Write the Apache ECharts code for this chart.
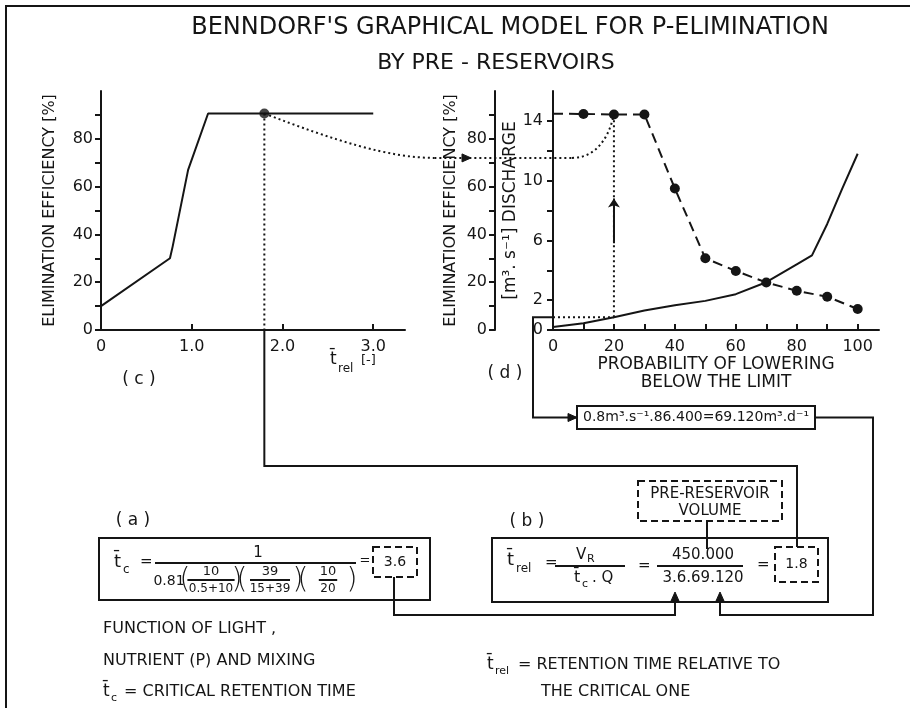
<!DOCTYPE html>
<html>
<head>
<meta charset="utf-8">
<script src="https://cdn.jsdelivr.net/npm/echarts@6/dist/echarts.min.js"></script>
<style>
  html, body { margin: 0; padding: 0; background: #ffffff; }
  #chart { width: 910px; height: 708px; }
</style>
</head>
<body>
<div id="chart"></div>
<script>
// ---- (c) elimination efficiency against relative retention time ----
const relTime    = [0, 0.76, 0.79, 0.96, 1.18, 3.0];
const efficiency = [10, 30, 35, 67, 90.6, 90.6];
const chosenRelTime = 1.8;      // result of formula (b)
const chosenEff = 90.6;         // efficiency read at that retention time
const transferEff = 72;         // level of the dotted transfer line

// ---- (d) probability of lowering below the limit ----
const probability = [0, 10, 20, 30, 40, 50, 60, 70, 80, 90, 100];
const effByProb   = [90.5, 90.4, 90.2, 90.2, 59.2, 30.0, 24.7, 19.9, 16.4, 13.9, 8.8];
const dischargeProb = [0, 10, 20, 30, 40, 50, 60, 70, 80, 85, 90, 95, 100];
const discharge     = [0.2, 0.45, 0.85, 1.3, 1.65, 1.95, 2.4, 3.2, 4.4, 5.0, 7.1, 9.5, 11.8];
const chosenProb = 20;
const chosenQ = 0.85;
const arrowQ = [5.8, 8.8];

// ---- ticks and labels ----
const effTicks   = [0, 10, 20, 30, 40, 50, 60, 70, 80, 90];
const effLabels  = [0, 20, 40, 60, 80];
const relTicks   = [0, 1, 2, 3];
const relLabels  = ['0', '1.0', '2.0', '3.0'];
const qTicks     = [0, 2, 4, 6, 8, 10, 12, 14];
const qLabels    = [0, 2, 6, 10, 14];
const probTicks  = [0, 10, 20, 30, 40, 50, 60, 70, 80, 90, 100];
const probLabels = [0, 20, 40, 60, 80, 100];

const EFF_MAX = 100, Q_MAX = 16, REL_MAX = 3.35, PROB_MAX = 107;

const INK = '#151515';
const FONT = '"DejaVu Sans", "Liberation Sans", sans-serif';

const chart = echarts.init(document.getElementById('chart'), null, { renderer: 'canvas' });

function zip(xs, ys) { return xs.map((x, i) => [x, ys[i]]); }

function valueAxis(extra) {
  return Object.assign({
    type: 'value',
    axisLine: { show: true, onZero: false, lineStyle: { color: INK, width: 2 } },
    splitLine: { show: false },
    axisLabel: { color: INK, fontFamily: FONT, fontSize: 16 },
    nameTextStyle: { color: INK, fontFamily: FONT, fontSize: 16 }
  }, extra);
}

const effAxisCommon = {
  min: 0, max: EFF_MAX, interval: 10,
  axisTick: { show: true, inside: false, length: 6, customValues: effTicks, lineStyle: { color: INK, width: 2 } },
  axisLabel: { color: INK, fontFamily: FONT, fontSize: 16, margin: 8, customValues: effLabels },
  name: 'ELIMINATION EFFICIENCY [%]', nameLocation: 'middle', nameRotate: 90,
  nameTextStyle: { color: INK, fontFamily: FONT, fontSize: 16 }
};

const option = {
  animation: false,
  backgroundColor: '#ffffff',
  grid: [
    { left: 101, top: 91, width: 304, height: 239 },
    { left: 553, top: 91, width: 326, height: 239 }
  ],
  xAxis: [
    valueAxis({
      gridIndex: 0, min: 0, max: REL_MAX, interval: 1,
      axisTick: { show: true, inside: true, length: 6, customValues: relTicks, lineStyle: { color: INK, width: 2 } },
      axisLabel: { color: INK, fontFamily: FONT, fontSize: 16, margin: 9, customValues: relTicks,
        formatter: v => relLabels[relTicks.indexOf(Math.round(v))] }
    }),
    valueAxis({
      gridIndex: 1, min: 0, max: PROB_MAX, interval: 10,
      axisTick: { show: true, inside: true, length: 6, customValues: probTicks, lineStyle: { color: INK, width: 2 } },
      axisLabel: { color: INK, fontFamily: FONT, fontSize: 16, margin: 9, customValues: probLabels },
      name: 'PROBABILITY OF LOWERING\nBELOW THE LIMIT', nameLocation: 'middle', nameGap: 26,
      nameTextStyle: { color: INK, fontFamily: FONT, fontSize: 17, lineHeight: 18, verticalAlign: 'top' }
    })
  ],
  yAxis: [
    valueAxis(Object.assign({ gridIndex: 0, nameGap: 43 }, effAxisCommon)),
    valueAxis({
      gridIndex: 1, min: 0, max: Q_MAX, interval: 2, position: 'left',
      axisTick: { show: true, inside: false, length: 6, customValues: qTicks, lineStyle: { color: INK, width: 2 } },
      axisLabel: { color: INK, fontFamily: FONT, fontSize: 16, margin: 10, customValues: qLabels },
      name: '[m\u00B3. s\u207B\u00B9] DISCHARGE', nameLocation: 'middle', nameRotate: 90, nameGap: 25,
      nameTextStyle: { color: INK, fontFamily: FONT, fontSize: 17 }
    }),
    valueAxis(Object.assign({ gridIndex: 1, position: 'left', offset: 58, nameGap: 36 }, effAxisCommon))
  ],
  series: [
    { // (c) efficiency curve
      type: 'line', xAxisIndex: 0, yAxisIndex: 0, data: zip(relTime, efficiency),
      symbol: 'none', lineStyle: { color: INK, width: 2 }
    },
    { // reading at t_rel = 1.8
      type: 'scatter', xAxisIndex: 0, yAxisIndex: 0, data: [[chosenRelTime, chosenEff]],
      symbol: 'circle', symbolSize: 10, itemStyle: { color: INK }
    },
    { // dotted drop line from the reading to the axis
      type: 'line', xAxisIndex: 0, yAxisIndex: 0, data: [[chosenRelTime, chosenEff], [chosenRelTime, 0]],
      symbol: 'none', lineStyle: { color: INK, width: 2, type: [2, 3] }
    },
    { // (d) efficiency against probability
      type: 'line', xAxisIndex: 1, yAxisIndex: 2,
      data: zip(probability, effByProb).map((p, i) => i === 0 ? { value: p, symbol: 'none' } : { value: p }),
      symbol: 'circle', symbolSize: 10, itemStyle: { color: INK },
      lineStyle: { color: INK, width: 2, type: [10, 6] }
    },
    { // (d) discharge duration curve
      type: 'line', xAxisIndex: 1, yAxisIndex: 1, data: zip(dischargeProb, discharge),
      symbol: 'none', lineStyle: { color: INK, width: 2 }
    },
    { // dotted level of the chosen discharge
      type: 'line', xAxisIndex: 1, yAxisIndex: 1, data: [[0, chosenQ], [chosenProb, chosenQ]],
      symbol: 'none', lineStyle: { color: INK, width: 2, type: [2, 3] }
    },
    { // dotted vertical at the chosen probability
      type: 'line', xAxisIndex: 1, yAxisIndex: 2,
      data: [[chosenProb, chosenQ * EFF_MAX / Q_MAX], [chosenProb, effByProb[probability.indexOf(chosenProb)]]],
      symbol: 'none', lineStyle: { color: INK, width: 2, type: [2, 3] }
    },
    { // upward arrow on the vertical
      type: 'lines', coordinateSystem: 'cartesian2d', xAxisIndex: 1, yAxisIndex: 1,
      data: [{ coords: [[chosenProb, arrowQ[0]], [chosenProb, arrowQ[1]]] }],
      symbol: ['none', 'arrow'], symbolSize: 9,
      lineStyle: { color: INK, width: 2, opacity: 1 }
    }
  ]
};

chart.setOption(option);

// ---- diagram furniture: boxes, formulas, connectors ----
const pc = p => chart.convertToPixel({ xAxisIndex: 0, yAxisIndex: 0 }, p);
const pq = p => chart.convertToPixel({ xAxisIndex: 1, yAxisIndex: 1 }, p);
const pe = p => chart.convertToPixel({ xAxisIndex: 1, yAxisIndex: 2 }, p);

const line = { stroke: INK, lineWidth: 2, fill: null };
const dotted = { stroke: INK, lineWidth: 2, fill: null, lineDash: [2, 3] };
const dashed = { stroke: INK, lineWidth: 2, fill: null, lineDash: [7, 4] };

function T(x, y, text, size, align, extra) {
  return {
    type: 'text', x: x, y: y, z: 10,
    style: Object.assign({
      text: text, fill: INK, font: size + 'px ' + FONT,
      align: align || 'left', verticalAlign: 'middle',
      textAlign: align || 'left', textVerticalAlign: 'middle'
    }, extra || {})
  };
}
function poly(points, style) { return { type: 'polyline', z: 5, shape: { points: points }, style: style || line }; }
function rect(x, y, w, h, style) { return { type: 'rect', z: 5, shape: { x: x, y: y, width: w, height: h }, style: style || line }; }
function arrowHead(x, y, dir) {
  const L = 9, W = 4;
  let pts;
  if (dir === 'right') pts = [[x - L, y - W], [x, y], [x - L, y + W]];
  else if (dir === 'up') pts = [[x - W, y + L], [x, y], [x + W, y + L]];
  else pts = [[x - W, y - L], [x, y], [x + W, y - L]];
  return { type: 'polygon', z: 6, shape: { points: pts }, style: { fill: INK, stroke: INK, lineWidth: 1 } };
}
function hline(x1, x2, y) { return poly([[x1, y], [x2, y]]); }

const cDot = pc([chosenRelTime, chosenEff]);
const cFoot = pc([chosenRelTime, 0]);
const level = pc([0, transferEff])[1];
const dDot = pe([chosenProb, effByProb[probability.indexOf(chosenProb)]]);
const dEffAxisX = pe([0, 0])[0] - 58;
const qPt = pq([0, chosenQ]);

const g = [];

// outer frame
g.push(poly([[6, 708], [6, 6], [910, 6]]));

// title
g.push(T(510, 28, "BENNDORF'S GRAPHICAL MODEL FOR P-ELIMINATION", 24, 'center'));
g.push(T(496, 63, 'BY PRE - RESERVOIRS', 22, 'center'));

// panel marks
g.push(T(139, 380, '( c )', 17, 'center'));
g.push(T(505, 374, '( d )', 17, 'center'));
g.push(T(330, 360, 't\u0304', 17, 'left'));
g.push(T(338, 369, 'rel', 12, 'left'));
g.push(T(361, 361, '[-]', 13, 'left'));

// dotted transfer from (c) to (d)
g.push({
  type: 'bezierCurve', z: 5,
  shape: { x1: cDot[0], y1: cDot[1], x2: cDot[0] + 170, y2: level,
           cpx1: cDot[0] + 70, cpy1: cDot[1] + 27, cpx2: cDot[0] + 125, cpy2: level },
  style: dotted
});
g.push(poly([[cDot[0] + 170, level], [dDot[0] - 42, level]], dotted));
g.push({
  type: 'bezierCurve', z: 5,
  shape: { x1: dDot[0] - 42, y1: level, x2: dDot[0], y2: dDot[1],
           cpx1: dDot[0] - 15, cpy1: level, cpx2: dDot[0] - 4, cpy2: level - 25 },
  style: dotted
});
g.push(arrowHead(dEffAxisX - 24, level, 'right'));

// connector from t_rel = 1.8 down to the result box of (b)
const boxB18 = { x: 775, y: 547, w: 43, h: 35 };
g.push(poly([[cFoot[0], cFoot[1]], [cFoot[0], 466], [797, 466], [797, boxB18.y]]));

// discharge read-off connector to the conversion box
const box08 = { x: 577, y: 406, w: 238, h: 23 };
const boxMid = box08.y + box08.h / 2;
g.push(poly([[qPt[0], qPt[1]], [qPt[0] - 20, qPt[1]], [qPt[0] - 20, boxMid], [box08.x - 1, boxMid]]));
g.push(arrowHead(box08.x, boxMid, 'right'));
g.push(rect(box08.x, box08.y, box08.w, box08.h));
g.push(T(box08.x + box08.w / 2, boxMid, '0.8m\u00B3.s\u207B\u00B9.86.400=69.120m\u00B3.d\u207B\u00B9', 14, 'center'));
g.push(poly([[box08.x + box08.w, boxMid], [873, boxMid], [873, 615], [720, 615], [720, 596]]));
g.push(arrowHead(720, 592, 'up'));

// (a) formula for the critical retention time
g.push(T(133, 521, '( a )', 17, 'center'));
g.push(rect(99, 538, 331, 62));
g.push(T(114, 562, 't\u0304', 18, 'left'));
g.push(T(123, 570, 'c', 12, 'left'));
g.push(T(140, 562, '=', 15, 'left'));
g.push(T(258, 553, '1', 15, 'center'));
g.push(hline(155, 356, 563));
g.push(T(169, 581, '0.81', 14, 'center'));
const fracs = [
  { l: 185, c: 211, r: 237, num: '10', den: '0.5+10' },
  { l: 242, c: 270, r: 298, num: '39', den: '15+39' },
  { l: 303, c: 328, r: 352, num: '10', den: '20' }
];
fracs.forEach(f => {
  g.push(T(f.l, 581, '(', 28, 'center', { font: '200 28px ' + FONT }));
  g.push(T(f.r, 581, ')', 28, 'center', { font: '200 28px ' + FONT }));
  g.push(T(f.c, 572, f.num, 13, 'center'));
  g.push(hline(f.c - (f.den.length * 3.6 + 2), f.c + (f.den.length * 3.6 + 2), 580));
  g.push(T(f.c, 589, f.den, 12, 'center'));
});
g.push(T(365, 561, '=', 13, 'center'));
g.push(rect(373, 547, 44, 30, dashed));
g.push(T(395, 562, '3.6', 14, 'center'));
g.push(poly([[394, 577], [394, 615], [675, 615], [675, 596]]));
g.push(arrowHead(675, 592, 'up'));

// (b) formula for the relative retention time
g.push(T(527, 522, '( b )', 17, 'center'));
g.push(rect(638, 481, 144, 40, dashed));
g.push(T(710, 494, 'PRE-RESERVOIR', 15, 'center'));
g.push(T(710, 511, 'VOLUME', 15, 'center'));
g.push(poly([[707, 521], [707, 549]]));
g.push(rect(492, 538, 336, 64));
g.push(T(507, 560, 't\u0304', 18, 'left'));
g.push(T(516, 569, 'rel', 12, 'left'));
g.push(T(545, 563, '=', 15, 'left'));
g.push(T(576, 555, 'V', 15, 'left'));
g.push(T(587, 559, 'R', 11, 'left'));
g.push(hline(555, 625, 566));
g.push(T(574, 578, 't\u0304', 16, 'left'));
g.push(T(582, 584, 'c', 11, 'left'));
g.push(T(592, 578, '. Q', 15, 'left'));
g.push(T(638, 566, '=', 15, 'left'));
g.push(T(703, 555, '450.000', 15, 'center'));
g.push(hline(657, 743, 566));
g.push(T(703, 578, '3.6.69.120', 15, 'center'));
g.push(T(757, 565, '=', 15, 'left'));
g.push(rect(boxB18.x, boxB18.y, boxB18.w, boxB18.h, dashed));
g.push(T(boxB18.x + boxB18.w / 2, boxB18.y + boxB18.h / 2, '1.8', 14, 'center'));

// notes
g.push(T(103, 629, 'FUNCTION OF LIGHT ,', 16, 'left'));
g.push(T(103, 661, 'NUTRIENT (P) AND MIXING', 16, 'left'));
g.push(T(103, 692, 't\u0304', 17, 'left'));
g.push(T(111, 698, 'c', 11, 'left'));
g.push(T(124, 692, '= CRITICAL RETENTION TIME', 16, 'left'));
g.push(T(487, 665, 't\u0304', 17, 'left'));
g.push(T(495, 671, 'rel', 11, 'left'));
g.push(T(518, 665, '= RETENTION TIME RELATIVE TO', 16, 'left'));
g.push(T(541, 692, 'THE CRITICAL ONE', 16, 'left'));

chart.setOption({ graphic: { elements: g } });
</script>
</body>
</html>
